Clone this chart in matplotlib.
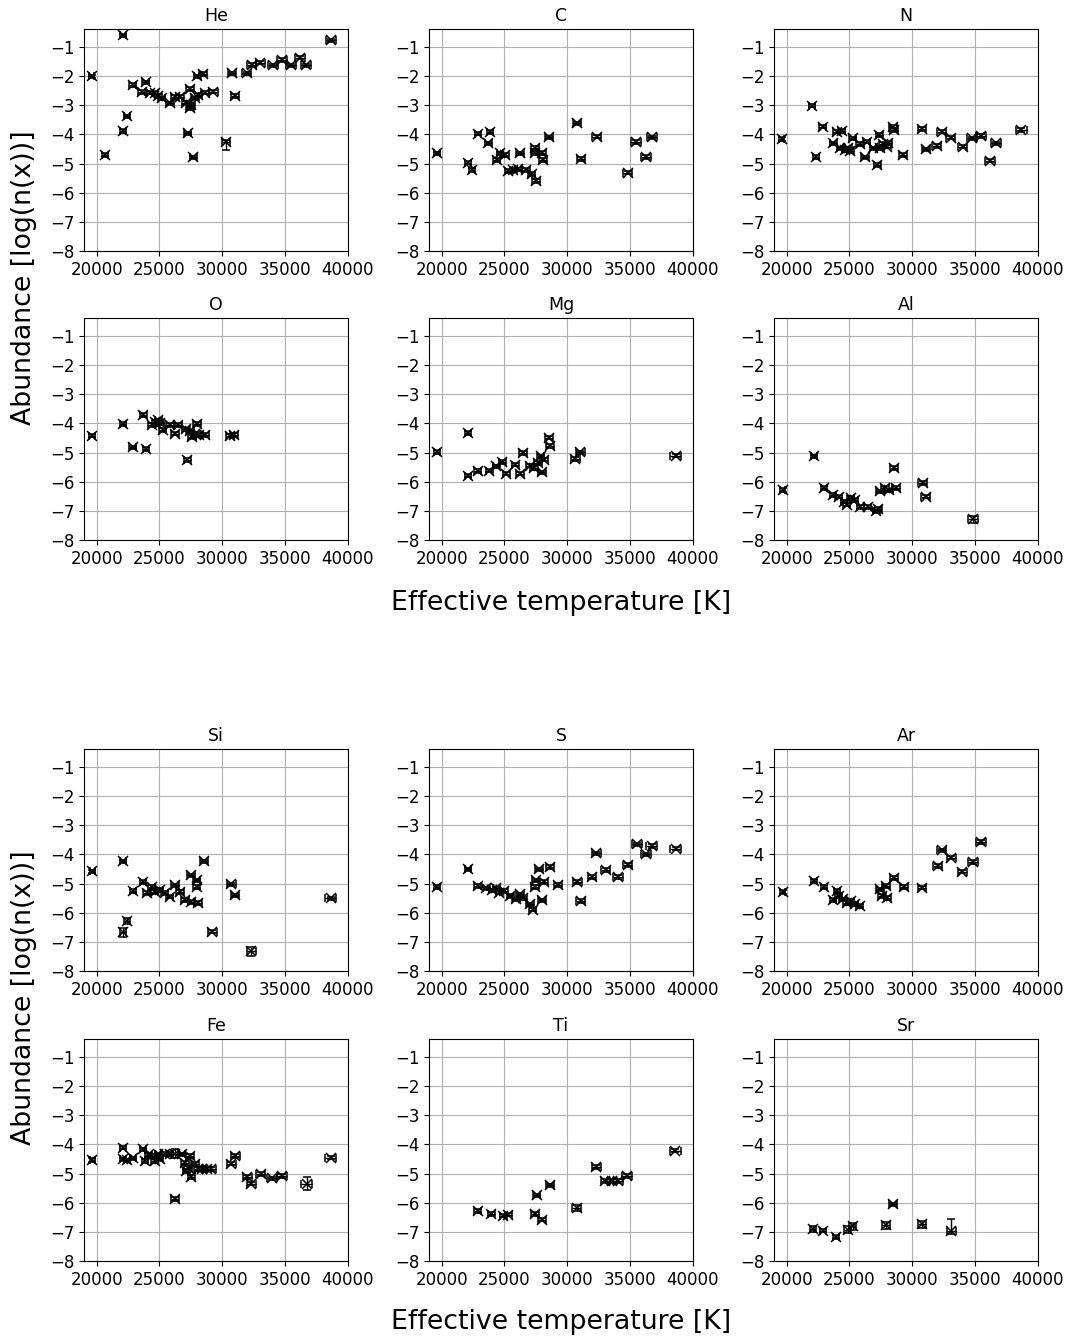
import numpy as np
import matplotlib.pyplot as plt

# effective temperature [K] and abundance log(n(x)) per element
he_teff = [19600, 20660, 22070, 22390, 22070, 22870, 23900, 23590, 24250, 24650,
           24910, 25180, 25840, 26240, 26640, 27120, 27440, 27440, 27500, 27830,
           28100, 27250, 27700, 28020, 28500, 28630, 29300, 30280, 30760, 31020,
           31950, 32350, 33010, 34020, 34740, 35480, 36200, 36680, 38640]
he_abund = [-2.01, -4.71, -0.60, -3.38, -3.88, -2.30, -2.21, -2.55, -2.56, -2.58,
            -2.68, -2.76, -2.93, -2.72, -2.70, -2.91, -2.44, -3.10, -2.99, -2.76,
            -2.64, -3.96, -4.79, -2.01, -1.92, -2.56, -2.53, -4.27, -1.90, -2.68,
            -1.90, -1.61, -1.53, -1.63, -1.44, -1.63, -1.36, -1.63, -0.77]

c_teff = [19650, 22120, 22390, 22920, 23850, 23720, 24380, 24650, 25050, 25310,
          25710, 26240, 26110, 26720, 27170, 27440, 27440, 27520, 27970, 28050,
          28580, 30760, 31080, 32350, 34790, 35490, 36250, 36710]
c_abund = [-4.65, -4.97, -5.22, -3.97, -3.91, -4.31, -4.88, -4.65, -4.70, -5.25,
           -5.22, -4.65, -5.20, -5.22, -5.36, -4.46, -4.65, -5.60, -4.63, -4.88,
           -4.10, -3.62, -4.85, -4.07, -5.31, -4.26, -4.77, -4.10]

n_teff = [19600, 21990, 22340, 22870, 23720, 23980, 24380, 24250, 24650, 24910,
          25050, 25260, 25840, 26240, 26370, 26900, 27220, 27380, 27430, 27650,
          27970, 28100, 28500, 28560, 29240, 30760, 31080, 31950, 32350, 33070,
          34000, 34740, 35460, 36200, 36680, 38670]
n_abund = [-4.16, -3.01, -4.77, -3.73, -4.31, -3.90, -3.88, -4.48, -4.54, -4.48,
           -4.56, -4.13, -4.33, -4.79, -4.25, -4.48, -5.05, -4.02, -4.48, -4.33,
           -4.42, -4.28, -3.73, -3.85, -4.71, -3.82, -4.51, -4.40, -3.90, -4.11,
           -4.42, -4.13, -4.05, -4.90, -4.31, -3.85]

o_teff = [19650, 22070, 22870, 23720, 23930, 24380, 24650, 24910, 25050, 25260,
          25840, 26240, 26510, 27120, 27220, 27440, 27570, 27970, 27830, 28150,
          28630, 30620, 30940]
o_abund = [-4.42, -4.02, -4.82, -3.71, -4.88, -4.05, -3.95, -3.89, -4.00, -4.23,
           -4.06, -4.35, -4.06, -4.20, -5.25, -4.27, -4.46, -4.02, -4.36, -4.40,
           -4.40, -4.42, -4.40]

mg_teff = [19620, 22080, 22080, 22870, 23810, 24350, 24820, 25130, 25860, 26240,
           26490, 27020, 27340, 27650, 27970, 27880, 28130, 28540, 28630, 30650,
           31030, 38620]
mg_abund = [-4.98, -4.32, -5.79, -5.64, -5.62, -5.47, -5.33, -5.72, -5.41, -5.72,
            -5.01, -5.45, -5.53, -5.36, -5.68, -5.13, -5.24, -4.49, -4.78, -5.22,
            -4.99, -5.10]

al_teff = [19690, 22170, 22960, 23680, 24150, 24560, 24780, 25090, 25410, 25880,
           26450, 27140, 27300, 27450, 27830, 28150, 28550, 28710, 30820, 31070,
           34840]
al_abund = [-6.28, -5.13, -6.22, -6.45, -6.51, -6.68, -6.79, -6.56, -6.62, -6.87,
            -6.87, -7.02, -6.94, -6.33, -6.22, -6.30, -5.53, -6.22, -6.05, -6.51,
            -7.29]

si_teff = [19660, 22120, 22920, 23710, 23980, 24370, 24640, 25040, 25430, 25830,
           26230, 26630, 27020, 27500, 27550, 27950, 27950, 28080, 28560, 22390,
           22070, 29220, 30730, 31000, 32320, 38630]
si_abund = [-4.58, -4.24, -5.25, -4.94, -5.32, -5.11, -5.28, -5.22, -5.32, -5.45,
            -5.06, -5.28, -5.57, -4.72, -5.63, -5.11, -4.89, -5.66, -4.24, -6.27,
            -6.67, -6.65, -5.03, -5.40, -7.32, -5.51]

s_teff = [19620, 22080, 22870, 23560, 24030, 24350, 24600, 24980, 25450, 25920,
          26240, 26490, 27020, 27250, 27430, 27480, 27970, 27750, 28130, 28600,
          29230, 30800, 31060, 31970, 32290, 33070, 34020, 34800, 35530, 36250,
          36700, 38620]
s_abund = [-5.11, -4.51, -5.08, -5.16, -5.23, -5.16, -5.31, -5.26, -5.43, -5.54,
           -5.37, -5.51, -5.71, -5.89, -5.12, -4.89, -5.58, -4.51, -4.94, -4.43,
           -5.05, -4.94, -5.60, -4.78, -3.96, -4.53, -4.78, -4.36, -3.65, -4.00,
           -3.71, -3.80]

ar_teff = [19690, 22170, 22960, 23680, 24000, 24150, 24470, 24780, 25090, 25410,
           25820, 27450, 27600, 28020, 27930, 28550, 29340, 30760, 32010, 32330,
           33110, 33990, 34840, 35470]
ar_abund = [-5.28, -4.91, -5.12, -5.57, -5.26, -5.43, -5.54, -5.66, -5.60, -5.71,
            -5.77, -5.20, -5.43, -5.49, -5.08, -4.80, -5.12, -5.14, -4.40, -3.86,
            -4.11, -4.59, -4.26, -3.57]

fe_teff = [19660, 22070, 22070, 22390, 22920, 23710, 23840, 24110, 24370, 24640,
           24900, 25040, 25430, 25830, 26230, 26760, 27020, 27290, 27150, 27420,
           27550, 27820, 28080, 28350, 28750, 29140, 26230, 30730, 31050, 31980,
           32320, 33040, 33970, 34760, 36700, 38630]
fe_abund = [-4.53, -4.11, -4.51, -4.55, -4.48, -4.17, -4.57, -4.36, -4.40, -4.57,
            -4.34, -4.51, -4.32, -4.32, -4.32, -4.34, -4.63, -4.80, -4.91, -4.40,
            -5.11, -4.66, -4.85, -4.85, -4.85, -4.85, -5.88, -4.66, -4.40, -5.11,
            -5.34, -5.02, -5.16, -5.08, -5.34, -4.45]

ti_teff = [22870, 23970, 24910, 25290, 27430, 27970, 27560, 28600, 30740, 32320,
           33010, 33550, 34050, 34740, 38590]
ti_abund = [-6.29, -6.38, -6.44, -6.41, -6.38, -6.58, -5.75, -5.40, -6.18, -4.77,
            -5.26, -5.26, -5.26, -5.09, -4.21]

sr_teff = [22110, 22890, 23930, 24870, 25250, 27920, 28490, 30760, 33110]
sr_abund = [-6.89, -6.96, -7.17, -6.92, -6.81, -6.77, -6.06, -6.74, -6.96]

panels = [("He", he_teff, he_abund), ("C", c_teff, c_abund), ("N", n_teff, n_abund),
          ("O", o_teff, o_abund), ("Mg", mg_teff, mg_abund), ("Al", al_teff, al_abund),
          ("Si", si_teff, si_abund), ("S", s_teff, s_abund), ("Ar", ar_teff, ar_abund),
          ("Fe", fe_teff, fe_abund), ("Ti", ti_teff, ti_abund), ("Sr", sr_teff, sr_abund)]

# abundance errors (lower, upper); most are small
default_yerr = 0.06
extra_yerr = {
    "He": {30280: (0.27, 0.08)},
    "Al": {34840: (0.12, 0.12)},
    "Si": {22070: (0.15, 0.15), 22390: (0.1, 0.1), 32320: (0.15, 0.15)},
    "Fe": {26230: (0.15, 0.15), 36700: (0.22, 0.22)},
    "Ti": {30740: (0.1, 0.1)},
    "Sr": {22110: (0.1, 0.1), 24870: (0.12, 0.12), 25250: (0.12, 0.12),
           27920: (0.12, 0.12), 30760: (0.12, 0.12), 33110: (0.12, 0.4)},
}

W, H = 1073, 1339
fig = plt.figure(figsize=(W / 100, H / 100), dpi=100)
col_left = [84, 429, 774]
row_top = [29, 318, 749, 1039]
ax_w, ax_h = 264, 222

for i, (name, teff, abund) in enumerate(panels):
    r, c = divmod(i, 3)
    ax = fig.add_axes([col_left[c] / W, 1 - (row_top[r] + ax_h) / H, ax_w / W, ax_h / H])
    teff = np.array(teff, dtype=float)
    abund = np.array(abund)
    lo = np.full(len(teff), default_yerr)
    hi = lo.copy()
    for t, (l, h) in extra_yerr.get(name, {}).items():
        k = np.argmin(np.abs(teff - t))
        lo[k], hi[k] = l, h
    ax.errorbar(teff, abund, xerr=0.011 * teff, yerr=[lo, hi], fmt='x', color='k',
                ms=6.5, mew=1.1, capsize=3, elinewidth=1)
    ax.set_xlim(19000, 40000)
    ax.set_ylim(-8, -0.38)
    ax.set_xticks(range(20000, 40001, 5000))
    ax.set_yticks(range(-8, 0))
    ax.grid(True)
    ax.set_axisbelow(True)
    ax.set_title(name, fontsize=12.5)
    ax.tick_params(labelsize=12)

for yc, yl in [(603, 278), (1322, 998)]:
    fig.text(561 / W, 1 - yc / H, "Effective temperature [K]", ha='center', va='center', fontsize=19.3)
    fig.text(24 / W, 1 - yl / H, "Abundance [log(n(x))]", ha='center', va='center',
             rotation=90, fontsize=19.3)

fig.savefig("out.png", dpi=100)
